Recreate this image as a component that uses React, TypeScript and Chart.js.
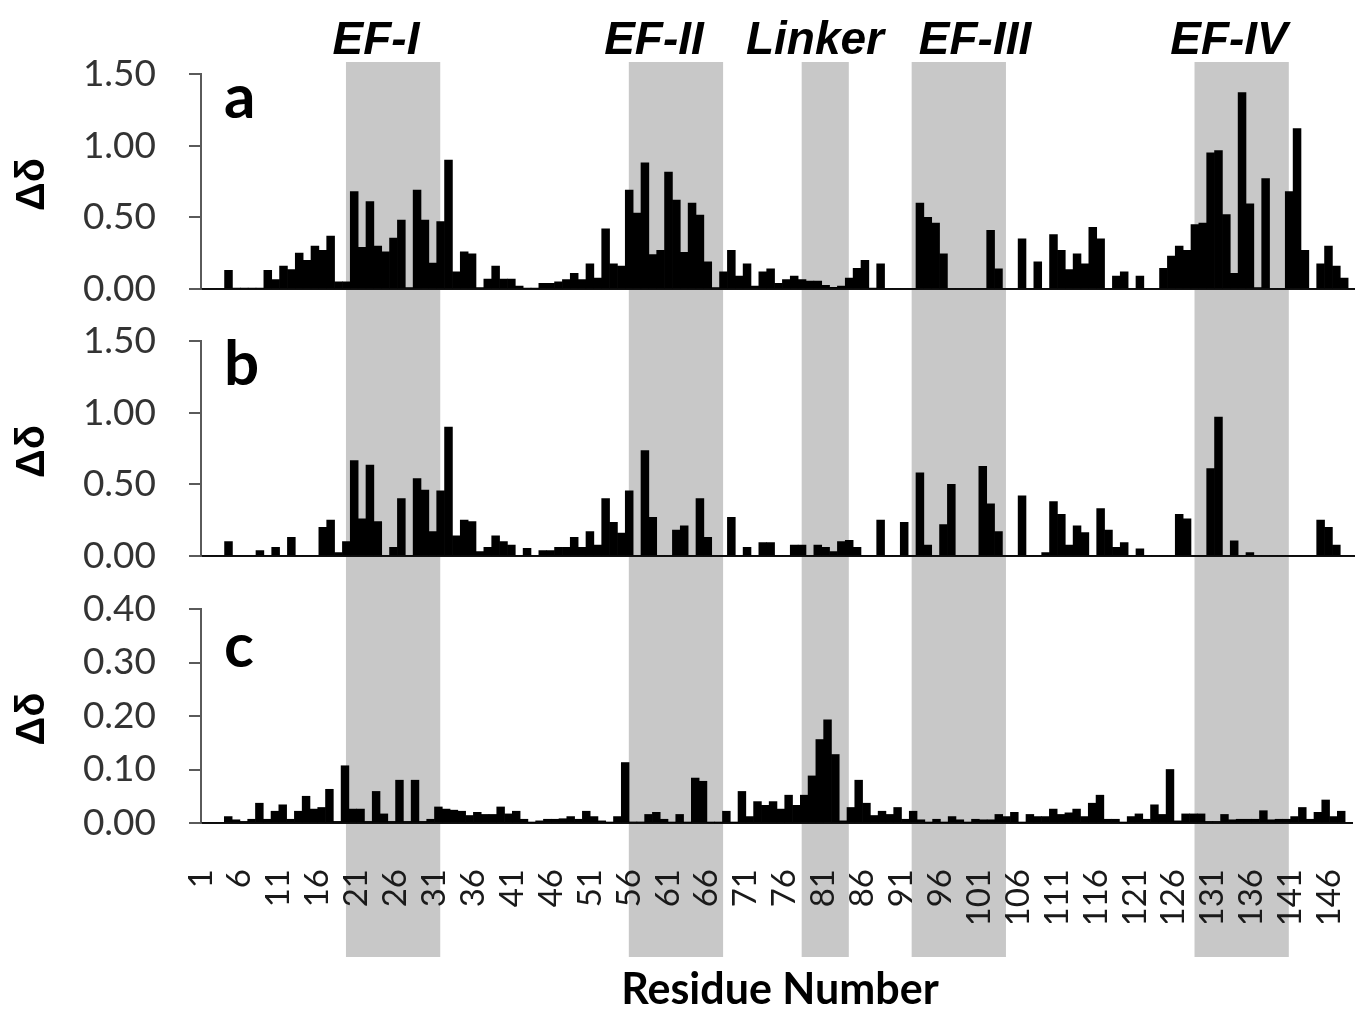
import React, { useEffect, useRef } from 'react';
import { Chart, registerables } from 'chart.js';

Chart.register(...registerables);

// ---------- data ----------
const residues: string[] = Array.from({ length: 148 }, (_, i) => String(i + 1));

const xTickLabels = ['1', '6', '11', '16', '21', '26', '31', '36', '41', '46', '51', '56', '61', '66', '71', '76', '81', '86', '91', '96', '101', '106', '111', '116', '121', '126', '131', '136', '141', '146'];

const yTicksAB = [0, 0.5, 1.0, 1.5];
const yTicksC = [0, 0.1, 0.2, 0.3, 0.4];

const deltaA = [
  0, 0, 0, 0.13, 0.005, 0.005, 0.005, 0.005, 0.13, 0.065,
  0.16, 0.135, 0.25, 0.20, 0.30, 0.27, 0.37, 0.05, 0.05, 0.68,
  0.29, 0.61, 0.30, 0.26, 0.355, 0.48, 0.01, 0.69, 0.48, 0.18,
  0.47, 0.90, 0.12, 0.26, 0.245, 0.01, 0.07, 0.16, 0.07, 0.07,
  0.02, 0.005, 0.005, 0.04, 0.04, 0.05, 0.065, 0.11, 0.065, 0.175,
  0.077, 0.42, 0.175, 0.16, 0.69, 0.53, 0.88, 0.24, 0.27, 0.815,
  0.62, 0.255, 0.60, 0.515, 0.19, 0.01, 0.12, 0.27, 0.09, 0.175,
  0.02, 0.12, 0.14, 0.04, 0.065, 0.09, 0.065, 0.055, 0.055, 0.025,
  0.012, 0.02, 0.077, 0.145, 0.20, 0.005, 0.175, 0, 0, 0,
  0, 0.60, 0.50, 0.46, 0.245, 0, 0, 0, 0, 0,
  0.41, 0.14, 0, 0, 0.35, 0, 0.19, 0, 0.38, 0.27,
  0.135, 0.245, 0.175, 0.43, 0.35, 0, 0.09, 0.12, 0, 0.09,
  0, 0, 0.145, 0.23, 0.30, 0.27, 0.45, 0.46, 0.95, 0.965,
  0.52, 0.11, 1.37, 0.595, 0.01, 0.77, 0, 0, 0.68, 1.12,
  0.27, 0, 0.175, 0.30, 0.16, 0.077, 0, 0,
];

const deltaB = [
  0, 0, 0, 0.10, 0, 0, 0, 0.037, 0, 0.06,
  0, 0.13, 0, 0, 0, 0.20, 0.25, 0.023, 0.10, 0.665,
  0.26, 0.635, 0.24, 0, 0.06, 0.40, 0, 0.54, 0.46, 0.17,
  0.455, 0.90, 0.14, 0.25, 0.24, 0.03, 0.06, 0.14, 0.10, 0.077,
  0, 0.054, 0, 0.037, 0.037, 0.06, 0.06, 0.13, 0.06, 0.17,
  0.077, 0.40, 0.235, 0.16, 0.455, 0, 0.735, 0.27, 0, 0,
  0.18, 0.21, 0, 0.40, 0.13, 0, 0, 0.27, 0, 0.06,
  0, 0.093, 0.093, 0, 0, 0.077, 0.077, 0, 0.077, 0.06,
  0.03, 0.10, 0.11, 0.06, 0, 0, 0.25, 0, 0, 0.235,
  0, 0.58, 0.077, 0, 0.22, 0.50, 0, 0, 0, 0.625,
  0.364, 0.17, 0, 0, 0.42, 0, 0, 0.023, 0.38, 0.29,
  0.077, 0.21, 0.163, 0, 0.33, 0.18, 0.06, 0.093, 0, 0.05,
  0, 0, 0, 0, 0.29, 0.26, 0, 0, 0.61, 0.97,
  0, 0.105, 0, 0.023, 0, 0, 0, 0, 0, 0,
  0, 0, 0.25, 0.20, 0.077, 0, 0, 0,
];

const deltaC = [
  0, 0, 0, 0.012, 0.006, 0.003, 0.007, 0.037, 0.007, 0.022,
  0.034, 0.007, 0.022, 0.05, 0.026, 0.029, 0.063, 0.003, 0.107, 0.026,
  0.026, 0.003, 0.059, 0.017, 0.003, 0.08, 0.003, 0.08, 0.003, 0.007,
  0.03, 0.026, 0.024, 0.022, 0.014, 0.02, 0.016, 0.016, 0.03, 0.017,
  0.022, 0.007, 0.001, 0.004, 0.007, 0.007, 0.008, 0.012, 0.007, 0.022,
  0.012, 0.004, 0.001, 0.012, 0.113, 0.002, 0.002, 0.016, 0.02, 0.007,
  0.001, 0.016, 0.001, 0.084, 0.078, 0.001, 0.001, 0.022, 0.001, 0.059,
  0.012, 0.04, 0.033, 0.04, 0.026, 0.052, 0.033, 0.052, 0.088, 0.156,
  0.193, 0.128, 0.004, 0.029, 0.08, 0.037, 0.014, 0.022, 0.016, 0.029,
  0.007, 0.022, 0.006, 0.001, 0.007, 0.001, 0.012, 0.006, 0.001, 0.007,
  0.006, 0.006, 0.016, 0.012, 0.02, 0.001, 0.016, 0.012, 0.012, 0.026,
  0.016, 0.019, 0.026, 0.012, 0.037, 0.052, 0.007, 0.007, 0.001, 0.012,
  0.017, 0.007, 0.034, 0.016, 0.10, 0.004, 0.017, 0.017, 0.017, 0.003,
  0.003, 0.016, 0.006, 0.007, 0.007, 0.007, 0.023, 0.006, 0.007, 0.007,
  0.012, 0.029, 0.007, 0.02, 0.043, 0.012, 0.022, 0,
];

const bandNames = ['EF-I', 'EF-II', 'Linker', 'EF-III', 'EF-IV'];
const bandStart = [20, 56, 78, 92, 128];
const bandEnd = [31, 67, 83, 103, 139];

// ---------- layout / style ----------
const CANVAS_W = 1420;
const CANVAS_H = 1009;
const PLOT_LEFT = 201;
const CAT_W = 7.857;
const PLOT_RIGHT = PLOT_LEFT + residues.length * CAT_W;
const X_AXIS_H = 100;
const BAND_COLOR = '#c8c8c8';
const BAND_TOP = 62;
const BAND_BOTTOM = 957;
const BAND_SHIFT = -0.55; // fraction of a category
const BAND_LABEL_X = [376, 654, 815, 975, 1229];
const BAND_LABEL_BASE = 54;
const LETTER_X = 224;
const Y_TITLE_X = 33;
const AXIS_GRAY = '#5a5a5a';
const TICK_FONT = 'Lato, "Open Sans", sans-serif';

type PanelDef = {
  letter: string;
  values: number[];
  ticks: number[];
  top: number;
  bottom: number;
  showX: boolean;
  letterBaseline: number;
};

const panels: PanelDef[] = [
  { letter: 'a', values: deltaA, ticks: yTicksAB, top: 74, bottom: 289, showX: false, letterBaseline: 118 },
  { letter: 'b', values: deltaB, ticks: yTicksAB, top: 341, bottom: 556, showX: false, letterBaseline: 385 },
  { letter: 'c', values: deltaC, ticks: yTicksC, top: 609, bottom: 823, showX: true, letterBaseline: 667 },
];

const bandPlugin = {
  id: 'efBands',
  beforeDraw(chart: any) {
    const { ctx } = chart;
    const x = chart.scales.x;
    const w = x.getPixelForValue(1) - x.getPixelForValue(0);
    ctx.save();
    ctx.fillStyle = BAND_COLOR;
    bandNames.forEach((_n, i) => {
      const left = x.getPixelForValue(bandStart[i] - 1) - w / 2 + BAND_SHIFT * w;
      const right = x.getPixelForValue(bandEnd[i] - 1) + w / 2 + BAND_SHIFT * w;
      ctx.fillRect(left, BAND_TOP, right - left, BAND_BOTTOM - BAND_TOP);
    });
    ctx.restore();
  },
};

const annotationPlugin = {
  id: 'annotations',
  afterDraw(chart: any) {
    const { ctx } = chart;
    ctx.save();
    ctx.fillStyle = '#000';
    ctx.textBaseline = 'alphabetic';
    ctx.textAlign = 'center';
    ctx.font = 'italic bold 46px "Liberation Sans", Arial, sans-serif';
    bandNames.forEach((n, i) => ctx.fillText(n, BAND_LABEL_X[i], BAND_LABEL_BASE));

    ctx.textAlign = 'left';
    ctx.font = 'bold 62px Lato, sans-serif';
    panels.forEach((p) => ctx.fillText(p.letter, LETTER_X, p.letterBaseline));

    ctx.font = 'bold 40px "Liberation Sans", Arial, sans-serif';
    ctx.textAlign = 'center';
    ctx.textBaseline = 'middle';
    panels.forEach((p) => {
      ctx.save();
      ctx.translate(Y_TITLE_X, (p.top + p.bottom) / 2 + 3);
      ctx.rotate(-Math.PI / 2);
      ctx.fillText('Δδ', 0, 0);
      ctx.restore();
    });

    ctx.textBaseline = 'alphabetic';
    ctx.font = 'bold 43px Lato, sans-serif';
    ctx.fillText('Residue Number', 780, 1004);
    ctx.restore();
  },
};

function makeConfig(p: PanelDef, idx: number): any {
  const isLast = idx === panels.length - 1;
  return {
    type: 'bar',
    data: {
      labels: residues,
      datasets: [
        {
          data: p.values,
          backgroundColor: '#000',
          borderWidth: 0,
          barPercentage: 1,
          categoryPercentage: 1,
        },
      ],
    },
    options: {
      animation: false,
      responsive: false,
      devicePixelRatio: 1,
      events: [],
      layout: {
        padding: {
          left: 0,
          top: p.top,
          right: CANVAS_W - PLOT_RIGHT,
          bottom: p.showX ? CANVAS_H - p.bottom - X_AXIS_H : CANVAS_H - p.bottom,
        },
      },
      plugins: {
        legend: { display: false },
        tooltip: { enabled: false },
        title: { display: false },
      },
      scales: {
        x: {
          offset: true,
          grid: { display: true, drawOnChartArea: false, drawTicks: false },
          border: { display: true, color: '#111', width: 2 },
          ticks: p.showX
            ? {
                display: true,
                autoSkip: false,
                minRotation: 90,
                maxRotation: 90,
                padding: 46,
                labelOffset: -4,
                color: '#1a1a1a',
                font: { family: TICK_FONT, size: 33 },
                callback: (_v: any, i: number) => (xTickLabels.includes(residues[i]) ? residues[i] : null),
              }
            : { display: false },
          afterFit: p.showX
            ? (s: any) => {
                s.height = X_AXIS_H;
              }
            : undefined,
        },
        y: {
          min: p.ticks[0],
          max: p.ticks[p.ticks.length - 1],
          afterBuildTicks: (s: any) => {
            s.ticks = p.ticks.map((v) => ({ value: v }));
          },
          afterFit: (s: any) => {
            s.width = PLOT_LEFT;
          },
          grid: {
            display: true,
            drawOnChartArea: false,
            drawTicks: true,
            tickLength: 12,
            color: AXIS_GRAY,
            lineWidth: 2,
          },
          border: { display: true, color: AXIS_GRAY, width: 2 },
          ticks: {
            padding: 33,
            color: '#333',
            font: { family: TICK_FONT, size: 37 },
            callback: (v: any) => Number(v).toFixed(2),
          },
        },
      },
    },
    plugins: [...(idx === 0 ? [bandPlugin] : []), ...(isLast ? [annotationPlugin] : [])],
  };
}

export default function App() {
  const refA = useRef<HTMLCanvasElement>(null);
  const refB = useRef<HTMLCanvasElement>(null);
  const refC = useRef<HTMLCanvasElement>(null);
  const refs = [refA, refB, refC];

  useEffect(() => {
    const charts = panels.map((p, i) => new Chart(refs[i].current as HTMLCanvasElement, makeConfig(p, i)));
    return () => {
      charts.forEach((c) => c.destroy());
    };
  }, []);

  return (
    <div
      style={{
        position: 'fixed',
        left: 0,
        top: 0,
        width: 1355,
        height: 1009,
        overflow: 'hidden',
        background: '#fff',
      }}
    >
      {panels.map((p, i) => (
        <canvas
          key={p.letter}
          ref={refs[i]}
          width={CANVAS_W}
          height={CANVAS_H}
          style={{ position: 'absolute', left: 0, top: 0, width: CANVAS_W, height: CANVAS_H }}
        />
      ))}
    </div>
  );
}
